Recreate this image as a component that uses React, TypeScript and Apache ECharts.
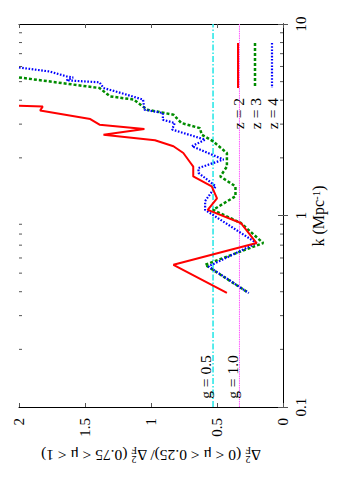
import React, { useEffect, useRef } from "react";
import * as echarts from "echarts";

// k (Mpc^-1) and ratio values per redshift
const z2K = [3.74, 3.71, 3.53, 3.19, 2.98, 2.83, 2.64, 2.47, 2.3, 2.12, 1.88, 1.8, 1.6, 1.42, 1.23, 1.07, 0.914, 0.718, 0.553, 0.394];
const z2Ratio = [2.0, 1.82, 1.84, 1.46, 1.39, 1.05, 1.36, 0.97, 0.83, 0.755, 0.7, 0.68, 0.68, 0.54, 0.5, 0.57, 0.32, 0.2, 0.83, 0.425];

const z3K = [5.26, 4.63, 4.19, 4.03, 3.57, 3.36, 3.04, 2.86, 2.64, 2.44, 2.12, 1.8, 1.6, 1.42, 1.26, 1.07, 0.914, 0.718, 0.553, 0.394];
const z3Ratio = [2.0, 1.39, 1.31, 1.13, 1.03, 0.83, 0.77, 0.63, 0.615, 0.53, 0.425, 0.425, 0.475, 0.36, 0.36, 0.53, 0.32, 0.15, 0.59, 0.26];

const z4K = [5.93, 5.65, 5.33, 5.26, 5.08, 4.96, 4.63, 4.45, 4.03, 3.57, 3.43, 3.16, 3.04, 2.81, 2.49, 2.3, 1.96, 1.77, 1.67, 1.42, 1.19, 1.07, 0.718, 0.542, 0.394];
const z4Ratio = [2.0, 1.77, 1.64, 1.59, 1.64, 1.39, 1.36, 1.27, 1.06, 1.05, 0.91, 0.91, 0.82, 0.84, 0.59, 0.69, 0.45, 0.64, 0.64, 0.51, 0.59, 0.59, 0.2, 0.565, 0.26];

const gLevels = [0.53, 0.33];
const gNames = ["g = 0.5", "g = 1.0"];
const kRange = [0.1, 10];
const minorKTicks = [0.2, 0.3, 0.4, 0.5, 0.6, 0.7, 0.8, 0.9, 2, 3, 4, 5, 6, 7, 8, 9];
const legendNames = ["z = 2", "z = 3", "z = 4"];

const FONT = "Liberation Serif";
const RED = "#ff0000";
const GREEN = "#008c00";
const BLUE = "#0000ff";
const CYAN = "#2ee8e8";
const MAGENTA = "#ff55ff";

const zip = (ks: number[], rs: number[]) => ks.map((k, i) => [rs[i], k]);

export default function App() {
  const ref = useRef<HTMLDivElement>(null);
  useEffect(() => {
    if (!ref.current) return;
    const chart = echarts.init(ref.current, undefined, { renderer: "svg" });

    const lineStyles = [
      { color: RED, width: 2, type: "solid" as any },
      { color: GREEN, width: 2.5, type: [3, 2] as any },
      { color: BLUE, width: 2.2, type: [1.6, 1.6] as any },
    ];

    const xCommon = {
      type: "value",
      min: 0,
      max: 2,
      interval: 0.5,
      inverse: true,
      splitLine: { show: false },
      axisLine: { show: true, lineStyle: { color: "#000", width: 1 } },
      axisTick: { show: true, inside: true, length: 4, lineStyle: { color: "#555" } },
    };
    const yCommon = {
      type: "log",
      logBase: 10,
      min: kRange[0],
      max: kRange[1],
      splitLine: { show: false },
      axisLine: { show: true, lineStyle: { color: "#000", width: 1 } },
      axisTick: { show: true, inside: true, length: 5, lineStyle: { color: "#555" } },
    };

    const legendX = [238, 255, 272];

    chart.setOption({
      animation: false,
      backgroundColor: "#fff",
      grid: { left: 19, right: 60, top: 24, bottom: 84, containLabel: false },
      xAxis: [
        {
          ...xCommon,
          position: "bottom",
          axisLabel: {
            rotate: 90,
            margin: 11,
            fontSize: 15,
            fontFamily: FONT,
            color: "#000",
            formatter: (v: number) => String(v),
          },
        },
        { ...xCommon, position: "top", axisLabel: { show: false } },
      ],
      yAxis: [
        {
          ...yCommon,
          position: "right",
          axisLabel: {
            rotate: 90,
            margin: 10,
            fontSize: 15,
            fontFamily: FONT,
            color: "#000",
            formatter: (v: number) => (v < 1 ? "0.1" : String(Math.round(v))),
          },
        },
        { ...yCommon, position: "left", axisLabel: { show: false } },
      ],
      series: [
        ...gLevels.map((g, i) => ({
          type: "line",
          xAxisIndex: 0,
          yAxisIndex: 0,
          symbol: "none",
          color: i === 0 ? CYAN : MAGENTA,
          data: [
            [g, kRange[0]],
            [g, kRange[1]],
          ],
          lineStyle: i === 0
            ? { color: CYAN, width: 1.6, type: [6, 2, 1.5, 2] }
            : { color: MAGENTA, width: 1, type: [1.5, 0.8] },
          z: 1,
          silent: true,
        })),
        {
          name: legendNames[0],
          type: "line",
          xAxisIndex: 0,
          yAxisIndex: 0,
          symbol: "none",
          data: zip(z2K, z2Ratio),
          lineStyle: lineStyles[0],
          z: 4,
        },
        {
          name: legendNames[1],
          type: "line",
          xAxisIndex: 0,
          yAxisIndex: 0,
          symbol: "none",
          data: zip(z3K, z3Ratio),
          lineStyle: lineStyles[1],
          z: 3,
        },
        {
          name: legendNames[2],
          type: "line",
          xAxisIndex: 0,
          yAxisIndex: 0,
          symbol: "none",
          data: zip(z4K, z4Ratio),
          lineStyle: lineStyles[2],
          z: 3,
        },
        {
          type: "custom",
          xAxisIndex: 0,
          yAxisIndex: 0,
          silent: true,
          data: minorKTicks.map((k) => [k]),
          renderItem: (params: any, api: any) => {
            const k = api.value(0);
            const left = api.coord([2, k]);
            const right = api.coord([0, k]);
            const st = { stroke: "#555", lineWidth: 1 };
            return {
              type: "group",
              children: [
                { type: "line", shape: { x1: left[0], y1: left[1], x2: left[0] + 3, y2: left[1] }, style: st },
                { type: "line", shape: { x1: right[0], y1: right[1], x2: right[0] - 3, y2: right[1] }, style: st },
              ],
            };
          },
          z: 5,
        },
      ],
      graphic: [
        {
          type: "text",
          x: 318,
          y: 216,
          rotation: Math.PI / 2,
          style: {
            text: "{t|k (Mpc}{sup|-1}{t|)}",
            align: "center",
            verticalAlign: "middle",
            fill: "#000",
            rich: {
              t: { fontSize: 16, fontFamily: FONT, fill: "#000", verticalAlign: "bottom" },
              sup: { fontSize: 11, fontFamily: FONT, fill: "#000", verticalAlign: "top" },
            },
          },
        },
        {
          type: "text",
          x: 151,
          y: 455,
          rotation: Math.PI,
          style: {
            text:
              "{t|Δ}{sub|F}{sup|2}{t| (0 < μ < 0.25)/ Δ}{sub|F}{sup|2}{t| (0.75 < μ < 1)}",
            align: "center",
            verticalAlign: "middle",
            fill: "#000",
            rich: {
              t: { fontSize: 15.5, fontFamily: FONT, fill: "#000", lineHeight: 19 },
              sub: { fontSize: 10, fontFamily: FONT, fill: "#000", verticalAlign: "bottom" },
              sup: { fontSize: 10, fontFamily: FONT, fill: "#000", verticalAlign: "top", padding: [0, 0, 0, -5] },
            },
          },
        },
        ...gNames.map((name, i) => ({
          type: "text",
          x: i === 0 ? 205 : 232,
          y: 377,
          rotation: Math.PI / 2,
          style: {
            text: name,
            align: "center",
            verticalAlign: "middle",
            fontSize: 15.5,
            fontFamily: FONT,
            fill: "#000",
          },
          z: 10,
        })),
        ...legendNames.map((name, i) => ({
          type: "text",
          x: legendX[i],
          y: 98,
          rotation: Math.PI / 2,
          style: {
            text: name,
            align: "right",
            verticalAlign: "middle",
            fontSize: 15.5,
            fontFamily: FONT,
            fill: "#000",
          },
          z: 10,
        })),
        ...legendNames.map((_, i) => ({
          type: "line",
          shape: { x1: legendX[i], y1: 43, x2: legendX[i], y2: 88 },
          style: {
            stroke: lineStyles[i].color,
            lineWidth: lineStyles[i].width,
            lineDash: Array.isArray(lineStyles[i].type) ? lineStyles[i].type : null,
          },
          z: 10,
        })),
      ],
    });
    return () => chart.dispose();
  }, []);
  return (
    <div
      ref={ref}
      style={{ position: "absolute", left: 0, top: 0, width: 343, height: 491 }}
    />
  );
}
